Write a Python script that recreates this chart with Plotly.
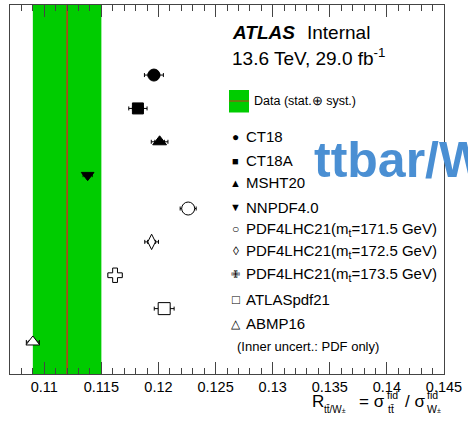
import plotly.graph_objects as go

# ---------------- data ----------------
models = ["CT18", "CT18A", "MSHT20", "NNPDF4.0",
          "PDF4LHC21(m<sub>t</sub>=171.5 GeV)",
          "PDF4LHC21(m<sub>t</sub>=172.5 GeV)",
          "PDF4LHC21(m<sub>t</sub>=173.5 GeV)",
          "ATLASpdf21", "ABMP16"]
ratio = [0.1196, 0.1182, 0.1201, 0.1138, 0.1226, 0.1194, 0.1162, 0.1205, 0.1090]
err_total = [0.00083, 0.00080, 0.00073, 0.00040, 0.00070, 0.00060, 0.00060, 0.00087, 0.00057]
err_pdf = [0.00050, 0.00048, 0.00042, 0.00022, 0.00040, 0.00035, 0.00035, 0.00050, 0.00033]
row = [9, 8, 7, 6, 5, 4, 3, 2, 1]

data_value = 0.112
data_low = 0.109
data_high = 0.115

tick_vals = [0.11, 0.115, 0.12, 0.125, 0.13, 0.135, 0.14, 0.145]
tick_text = ["0.11", "0.115", "0.12", "0.125", "0.13", "0.135", "0.14", "0.145"]

# ---------------- styles ----------------
symbols = ["circle", "square", "triangle-up", "triangle-down", "circle",
           "diamond-tall", "cross", "square", "triangle-up"]
fills = ["black"] * 4 + ["white"] * 5
sizes = [12, 11, 12, 11, 13, 11, 12, 12, 12]
legend_glyphs = ["●", "■", "▲", "▼", "○", "◊", "✙", "□", "△"]
glyph_sizes = [12, 11, 11, 11, 12, 12, 11, 13, 12]
FONT = "Liberation Sans, Arial, Helvetica, sans-serif"
GREEN = "#00cc00"
RED = "#c8321e"

W, H = 468, 424
L, R, T, B = 10, 24, 5, 50
PW, PH = W - L - R, H - T - B


def px(x):
    return (x - L) / PW


def py(y):
    return (H - B - y) / PH


fig = go.Figure()

# outer (total) uncertainty
fig.add_trace(go.Scatter(
    x=ratio, y=row, mode="markers",
    marker=dict(size=1, color="rgba(0,0,0,0)", opacity=1),
    error_x=dict(type="data", array=err_total, color="black", thickness=1, width=2),
    showlegend=False, hoverinfo="skip"))
# inner (PDF-only) uncertainty
fig.add_trace(go.Scatter(
    x=ratio, y=row, mode="markers",
    marker=dict(size=1, color="rgba(0,0,0,0)", opacity=1),
    error_x=dict(type="data", array=err_pdf, color="black", thickness=1, width=2),
    showlegend=False, hoverinfo="skip"))
# markers on top
fig.add_trace(go.Scatter(
    x=ratio, y=row, mode="markers",
    marker=dict(symbol=symbols, size=sizes, color=fills, opacity=1,
                line=dict(color="black", width=1)),
    text=models, showlegend=False))

shapes = [
    dict(type="rect", xref="x", yref="paper", x0=data_low, x1=data_high, y0=0, y1=1,
         fillcolor=GREEN, line=dict(width=0), layer="below"),
    dict(type="line", xref="x", yref="paper", x0=data_value, x1=data_value, y0=0, y1=1,
         line=dict(color=RED, width=1.5), layer="below"),
    # legend key for data
    dict(type="rect", xref="paper", yref="paper", x0=px(229), x1=px(249), y0=py(112.5), y1=py(90),
         fillcolor=GREEN, line=dict(width=0)),
    dict(type="line", xref="paper", yref="paper", x0=px(229), x1=px(249), y0=py(101), y1=py(101),
         line=dict(color=RED, width=1)),
]

ann = []


def txt(x, y, s, size, **kw):
    d = dict(xref="paper", yref="paper", x=px(x), y=py(y), text=s, showarrow=False,
             xanchor=kw.pop("xanchor", "left"), yanchor="middle", borderpad=0,
             font=dict(family=FONT, size=size, color=kw.pop("color", "black")))
    d.update(kw)
    ann.append(d)


txt(231, 33, "<b><i>ATLAS</i></b>", 19)
txt(306, 33, "Internal", 19)
txt(231, 57, "13.6 TeV, 29.0 fb<sup>-1</sup>", 19)
txt(253, 101, "Data (stat.⊕ syst.)", 12.5)

leg_y = [136.7, 160.5, 183, 207, 229, 251, 274, 299, 323.5]
for g, gs, name, y in zip(legend_glyphs, glyph_sizes, models, leg_y):
    txt(236, y, g, gs, xanchor="center")
    txt(245, y, name, 15)
txt(236, 346.7, "(Inner uncert.: PDF only)", 13)

# axis title pieces
txt(311, 401, "R", 17)
txt(323, 409, "tt̄/W<span style='font-size:7px'>±</span>", 10)
txt(358, 401, "= σ", 17)
txt(386, 395, "fid", 10.5)
txt(387, 409, "tt̄", 10.5)
txt(404, 401, "/ σ", 17)
txt(426, 395, "fid", 10.5)
txt(426, 409, "W<span style='font-size:7px'>±</span>", 10.5)

# watermark
txt(313, 160, "<b>ttbar/W</b>", 50, color="#4a8fd3")

fig.update_layout(
    width=W, height=H, margin=dict(l=L, r=R, t=T, b=B),
    paper_bgcolor="white", plot_bgcolor="white",
    font=dict(family=FONT, size=14, color="black"),
    shapes=shapes, annotations=ann, showlegend=False,
    xaxis=dict(range=[0.107, 0.145], tickvals=tick_vals, ticktext=tick_text,
               ticks="inside", ticklen=12, tickwidth=1, tickcolor="#444",
               minor=dict(dtick=0.001, tick0=0.11, ticks="inside", ticklen=6, tickcolor="#444", showgrid=False),
               showgrid=False, zeroline=False, showline=True, linecolor="#444", linewidth=1,
               mirror="allticks", tickfont=dict(size=14.5, color="black")),
    yaxis=dict(range=[0.04, 11.1], showticklabels=False, ticks="", showgrid=False,
               zeroline=False, showline=True, linecolor="#444", linewidth=1, mirror=True),
)

fig.write_html("out.html")
